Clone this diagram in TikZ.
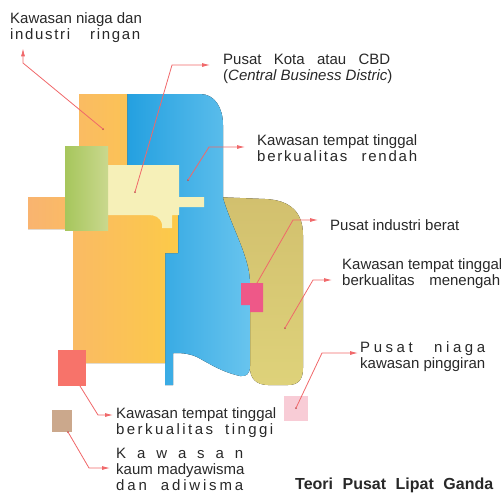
\documentclass[tikz,border=0pt]{standalone}
\usepackage{fontspec}
\setmainfont{Liberation Sans}
\usetikzlibrary{arrows.meta}

\definecolor{orangeL}{RGB}{249,180,112}
\definecolor{orangeR}{RGB}{252,202,72}
\definecolor{blueL}{RGB}{36,160,224}
\definecolor{blueR}{RGB}{104,196,238}
\definecolor{greenL}{RGB}{166,198,92}
\definecolor{greenR}{RGB}{202,216,142}
\definecolor{oliveT}{RGB}{210,192,110}
\definecolor{oliveB}{RGB}{222,210,122}
\definecolor{cbdyellow}{RGB}{246,240,184}
\definecolor{heavypink}{RGB}{238,88,136}
\definecolor{highred}{RGB}{247,115,106}
\definecolor{madyatan}{RGB}{203,168,140}
\definecolor{fringepink}{RGB}{248,204,214}
\definecolor{leadred}{RGB}{240,104,106}
\definecolor{textgray}{RGB}{40,40,40}

\newcommand{\spread}[2]{\makebox[#1][s]{\spaceskip=0pt plus 1fil\relax #2}}
\newcommand{\wgap}[1]{\hspace{0pt plus #1fil}}

\tikzset{
    pointer/.style={draw=leadred, line width=0.8pt, -{Latex[length=8pt,width=4pt]}},
    zonetext/.style={anchor=north west, inner sep=0pt, align=left,
        text=textgray, font=\fontsize{15}{16}\selectfont},
}

\begin{document}
\begin{tikzpicture}[x=1pt,y=-1pt]
    \useasboundingbox (0,0) rectangle (501,496);

    \fill[top color=oliveT, bottom color=oliveB]
        (215,197) -- (265,199) .. controls (290,200) and (303,212) .. (303,235)
        -- (303,368) .. controls (303,380) and (298,385) .. (288,385)
        -- (268,385) .. controls (256,385) and (250,378) .. (250,368)
        -- (250,290) -- cycle;
    \fill[left color=blueL, right color=blueR]
        (127,94) -- (200,94) .. controls (215,94) and (223,108) .. (223,125)
        -- (223,198) .. controls (228,215) and (236,232) .. (242,248)
        .. controls (247,262) and (250,272) .. (250,285)
        -- (250,366) .. controls (250,374) and (246,377) .. (240,376)
        .. controls (222,372) and (210,364) .. (197,357)
        .. controls (188,353) and (180,353) .. (173,353)
        -- (173,385) -- (165,385) -- (165,250) -- (127,250) -- cycle;
    \fill[left color=orangeL, right color=orangeR]
        (79,94) rectangle (127,216)
        (73,215) rectangle (165,363)
        (164,215) rectangle (178,253)
        (28,197) rectangle (66,229);
    \fill[cbdyellow]
        (107,165) -- (179,165) -- (179,197) -- (204,197) -- (204,207)
        -- (179,207) -- (179,215) -- (172,215) -- (172,228) -- (162,228)
        -- (162,224) .. controls (160,217) and (155,215) .. (148,215)
        -- (107,215) -- cycle;
    \fill[left color=greenL, right color=greenR] (65,146) rectangle (108,230);
    \fill[heavypink] (241,283) -- (263,283) -- (263,312) -- (250,312)
        -- (250,305) -- (241,305) -- cycle;
    \fill[highred] (58,350) rectangle (86,386);
    \fill[madyatan] (52,410) rectangle (72,432);
    \fill[fringepink] (284,396) rectangle (308,421);

    \coordinate (niagadot) at (103,129);
    \coordinate (niagabend) at (23,63);
    \coordinate (cbddot) at (135,192);
    \coordinate (cbdbend) at (172,65);
    \coordinate (rendahdot) at (188,180);
    \coordinate (rendahbend) at (209,147);
    \coordinate (beratdot) at (257,283);
    \coordinate (beratbend) at (293,220);
    \coordinate (menengahdot) at (285,328);
    \coordinate (menengahbend) at (313,280);
    \coordinate (pinggirdot) at (296,408);
    \coordinate (pinggirbend) at (322,353);
    \coordinate (tinggidot) at (80,386);
    \coordinate (tinggibend) at (98,415);
    \coordinate (madyadot) at (68,432);
    \coordinate (madyabend) at (89,468);

    \node[zonetext] (niaga) at (10,12)
        {Kawasan niaga dan\\\spread{130pt}{i n d u s t r i\wgap{12}r i n g a n}};
    \node[zonetext] (cbd) at (223,54)
        {\spread{167pt}{Pusat Kota atau CBD}\\(\textit{Central Business Distric})};
    \node[zonetext] (rendah) at (257,134)
        {Kawasan tempat tinggal\\\spread{160pt}{b e r k u a l i t a s\wgap{8}r e n d a h}};
    \node[zonetext] (berat) at (330,219) {Pusat industri berat};
    \node[zonetext] (menengah) at (342,258)
        {Kawasan tempat tinggal\\\spread{158pt}{berkualitas menengah}};
    \node[zonetext] (pinggir) at (360,341)
        {\spread{125pt}{P u s a t\wgap{6}n i a g a}\\kawasan pinggiran};
    \node[zonetext] (tinggi) at (116,407)
        {Kawasan tempat tinggal\\\spread{157pt}{b e r k u a l i t a s\wgap{5}t i n g g i}};
    \node[zonetext] (madya) at (116,448)
        {\spread{127pt}{K a w a s a n}\\kaum madyawisma\\\spread{127pt}{d a n\wgap{5}a d i w i s m a}};
    \node[zonetext, font=\fontsize{16}{18}\selectfont\bfseries] (judul) at (295,478)
        {\spread{198pt}{Teori Pusat Lipat Ganda}};

    \foreach \d in {niagadot,cbddot,rendahdot,menengahdot,pinggirdot,madyadot}
        \fill[leadred!80!black] (\d) circle[radius=1pt];
    \draw[pointer, shorten >=6pt] (niagadot) -- (niagabend) -- (niagabend |- niaga.south);
    \draw[pointer, shorten >=13pt] (cbddot) -- (cbdbend) -- (cbdbend -| cbd.west);
    \draw[pointer, shorten >=12pt] (rendahdot) -- (rendahbend) -- (rendahbend -| rendah.west);
    \draw[pointer, shorten >=12pt] (beratdot) -- (beratbend) -- (beratbend -| berat.west);
    \draw[pointer, shorten >=10pt] (menengahdot) -- (menengahbend) -- (menengahbend -| menengah.west);
    \draw[pointer, shorten >=2pt] (pinggirdot) -- (pinggirbend) -- (pinggirbend -| pinggir.west);
    \draw[pointer, shorten >=3pt] (tinggidot) -- (tinggibend) -- (tinggibend -| tinggi.west);
    \draw[pointer, shorten >=6pt] (madyadot) -- (madyabend) -- (madyabend -| madya.west);
\end{tikzpicture}
\end{document}
